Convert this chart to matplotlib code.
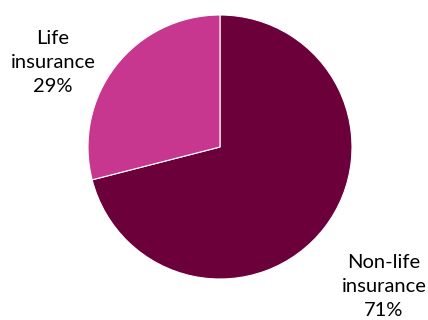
import matplotlib
matplotlib.use("Agg")
import matplotlib.pyplot as plt

# Shares of the pie (clockwise from 12 o'clock)
labels = ["Non-life\ninsurance\n71%", "Life\ninsurance\n29%"]
shares = [71, 29]
colours = ["#6b003b", "#c8378f"]

plt.rcParams['font.family'] = ['Lato', 'DejaVu Sans']

fig = plt.figure(figsize=(4.28, 3.2), dpi=100)
ax = fig.add_axes([0, 0, 1, 1])

ax.pie(shares, colors=colours, startangle=90, counterclock=False,
       center=(220, 173), radius=132, frame=True,
       wedgeprops=dict(edgecolor='white', linewidth=0.8))
ax.set_xlim(0, 428)
ax.set_ylim(0, 320)
ax.set_aspect('equal')
ax.axis('off')

ax.text(53, 320 - 62, labels[1], ha='center', va='center', fontsize=14.5,
        linespacing=1.5, color='black')
ax.text(384, 320 - 286, labels[0], ha='center', va='center', fontsize=14.5,
        linespacing=1.5, color='black')

fig.savefig("out.png", dpi=100)
